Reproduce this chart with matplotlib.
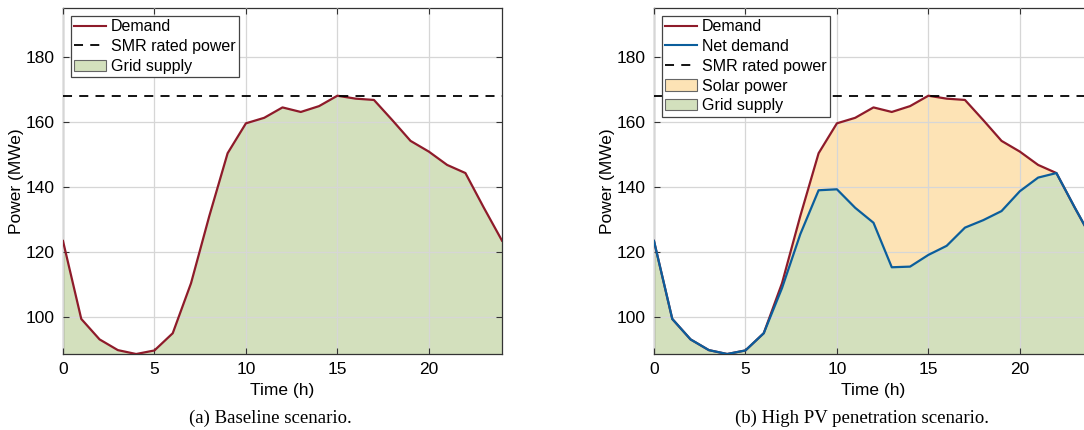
import matplotlib
matplotlib.use("Agg")
import matplotlib.pyplot as plt
from matplotlib.lines import Line2D
from matplotlib.patches import Patch

# hourly profiles (MWe)
hours = list(range(25))
demand = [123.3, 99.3, 93.0, 89.7, 88.5, 89.6, 94.9, 110.3, 131.0, 150.3,
          159.5, 161.2, 164.4, 163.0, 164.8, 168.0, 167.1, 166.7, 160.5, 154.1,
          150.8, 146.7, 144.2, 133.6, 123.4]
net_demand = [123.3, 99.3, 93.0, 89.7, 88.5, 89.6, 94.9, 108.8, 125.4, 138.9,
              139.2, 133.5, 128.9, 115.2, 115.4, 119.0, 121.8, 127.4, 129.7, 132.5,
              138.6, 142.8, 144.2, 133.6, 123.4]
smr_rated = 168.0

red = "#8E1B2A"
blue = "#0B5E9C"
green_fill = "#D3E0BD"
solar_fill = "#FDE3B5"

plt.rcParams["font.family"] = ["Liberation Sans", "DejaVu Sans"]

fig = plt.figure(figsize=(10.84, 4.30), dpi=100)
ax1 = fig.add_axes([0.0581, 0.1767, 0.405, 0.8047])
ax2 = fig.add_axes([0.6033, 0.1767, 0.405, 0.8047])

ymin, ymax = 88.5, 195


def style_axes(ax):
    ax.set_xlim(0, 24)
    ax.set_ylim(ymin, ymax)
    ax.set_xticks([0, 5, 10, 15, 20])
    ax.set_yticks([100, 120, 140, 160, 180])
    ax.grid(True, color="#D6D6D6", linewidth=0.9)
    ax.set_axisbelow(False)
    ax.tick_params(direction="in", top=True, right=True, labelsize=12.5,
                   length=4, width=0.8, color="#333333", pad=6)
    for sp in ax.spines.values():
        sp.set_color("#333333")
        sp.set_linewidth(0.9)
    ax.set_xlabel("Time (h)", fontsize=12.5, labelpad=4)
    ax.set_ylabel("Power (MWe)", fontsize=12.5, labelpad=1)


legend_kw = dict(loc="upper left", fontsize=11.5, fancybox=False,
                 edgecolor="#444444", framealpha=1, borderpad=0.2,
                 labelspacing=0.3, handlelength=2.0, handletextpad=0.3,
                 borderaxespad=0.5)

# (a) baseline
ax1.fill_between(hours, 0, demand, color=green_fill, linewidth=0, zorder=1)
ax1.plot(hours, demand, color=red, linewidth=1.6, zorder=3)
ax1.axhline(smr_rated, color="black", linestyle=(0, (5, 4)), linewidth=1.3, zorder=3)
style_axes(ax1)
h1 = [Line2D([], [], color=red, linewidth=1.5),
      Line2D([], [], color="black", linestyle=(0, (5, 4)), linewidth=1.3),
      Patch(facecolor=green_fill, edgecolor="#666666", linewidth=0.8)]
leg1 = ax1.legend(h1, ["Demand", "SMR rated power", "Grid supply"], **legend_kw)
leg1.get_frame().set_linewidth(0.9)

# (b) high PV
ax2.fill_between(hours, 0, net_demand, color=green_fill, linewidth=0, zorder=1)
ax2.fill_between(hours, net_demand, demand, color=solar_fill, linewidth=0, zorder=1)
ax2.plot(hours, demand, color=red, linewidth=1.6, zorder=3)
ax2.plot(hours, net_demand, color=blue, linewidth=1.6, zorder=3)
ax2.axhline(smr_rated, color="black", linestyle=(0, (5, 4)), linewidth=1.3, zorder=3)
style_axes(ax2)
h2 = [Line2D([], [], color=red, linewidth=1.5),
      Line2D([], [], color=blue, linewidth=1.5),
      Line2D([], [], color="black", linestyle=(0, (5, 4)), linewidth=1.3),
      Patch(facecolor=solar_fill, edgecolor="#666666", linewidth=0.8),
      Patch(facecolor=green_fill, edgecolor="#666666", linewidth=0.8)]
leg2 = ax2.legend(h2, ["Demand", "Net demand", "SMR rated power", "Solar power", "Grid supply"],
                  **legend_kw)
leg2.get_frame().set_linewidth(0.9)

fig.text(270 / 1084, 1 - 418 / 430, "(a) Baseline scenario.", ha="center", va="center",
         fontsize=13.5, family=["Liberation Serif", "DejaVu Serif"])
fig.text(862 / 1084, 1 - 418 / 430, "(b) High PV penetration scenario.", ha="center", va="center",
         fontsize=13.5, family=["Liberation Serif", "DejaVu Serif"])

fig.savefig("out.png", dpi=100)
